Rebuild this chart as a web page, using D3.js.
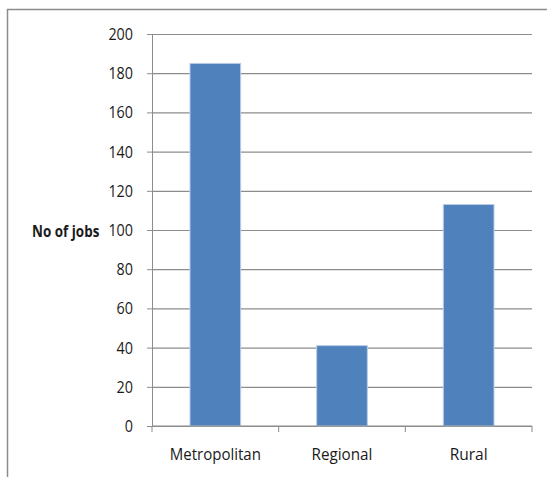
<!DOCTYPE html>
<html>
<head>
<meta charset="utf-8">
<script src="https://cdn.jsdelivr.net/npm/d3@7"></script>
<style>
  body { margin: 0; background: #fff; }
  svg text { font-family: "Open Sans", "Liberation Sans", sans-serif; fill: #1a1a1a; }
</style>
</head>
<body>
<svg id="chart" width="547" height="477"></svg>
<script>
const categories = ["Metropolitan", "Regional", "Rural"];
const jobs = [185, 41, 113];
const yTicks = [0, 20, 40, 60, 80, 100, 120, 140, 160, 180, 200];
const yTitle = "No of jobs";

const svg = d3.select("#chart");
const plot = { left: 152, right: 532, top: 34, bottom: 426 };

// condensed lettering: squeeze each label to a narrow width
const narrow = (sel, perChar) => sel.each(function () {
  const t = d3.select(this);
  t.attr("textLength", t.text().length * perChar).attr("lengthAdjust", "spacingAndGlyphs");
});

// outer frame
svg.append("rect")
  .attr("x", 7.5).attr("y", 9.5)
  .attr("width", 560).attr("height", 480)
  .attr("fill", "none").attr("stroke", "#8c8c8c").attr("stroke-width", 1.5);

const x = d3.scaleBand().domain(categories).range([plot.left, plot.right])
  .paddingInner(0.6).paddingOuter(0.3);
const y = d3.scaleLinear().domain([0, 200]).range([plot.bottom, plot.top]);

// horizontal gridlines with left tick marks
const yAxis = svg.append("g")
  .attr("transform", `translate(${plot.left},0)`)
  .call(d3.axisLeft(y).tickValues(yTicks).tickSize(5).tickPadding(14).tickFormat(d3.format("d")));
yAxis.select(".domain").attr("stroke", "#8c8c8c");
yAxis.selectAll(".tick line").attr("stroke", "#8c8c8c");
yAxis.selectAll(".tick").append("line")
  .attr("x1", 0).attr("x2", plot.right - plot.left)
  .attr("stroke", "#8c8c8c").attr("stroke-width", 1.2);
yAxis.selectAll("text").attr("font-size", 17).attr("fill", "#1a1a1a")
  .style("font-family", "'Open Sans', sans-serif")
  .call(narrow, 8.2);

// bars
svg.append("g").selectAll("rect").data(jobs).join("rect")
  .attr("x", (d, i) => x(categories[i]))
  .attr("y", d => y(d))
  .attr("width", x.bandwidth())
  .attr("height", d => y(0) - y(d))
  .attr("fill", "#4f81bd")
  .attr("stroke", "#b9cde6").attr("stroke-width", 1);

// x axis with category boundary ticks
const xb = svg.append("g").attr("transform", `translate(0,${plot.bottom})`);
xb.append("line").attr("x1", plot.left).attr("x2", plot.right)
  .attr("stroke", "#8c8c8c").attr("stroke-width", 1.2);
const bounds = d3.range(categories.length + 1).map(i => plot.left + i * (plot.right - plot.left) / categories.length);
xb.selectAll("line.b").data(bounds).join("line").attr("class", "b")
  .attr("x1", d => d).attr("x2", d => d).attr("y1", 0).attr("y2", 6)
  .attr("stroke", "#8c8c8c");
xb.selectAll("text").data(categories).join("text")
  .attr("x", d => x(d) + x.bandwidth() / 2)
  .attr("y", 34)
  .attr("text-anchor", "middle")
  .attr("font-size", 16)
  .text(d => d)
  .call(narrow, 7.6);

// y axis title, drawn horizontally condensed
const title = svg.append("text")
  .attr("transform", "translate(32,237) scale(0.84,1)")
  .attr("font-size", 16).attr("font-weight", "bold")
  .text(yTitle);
</script>
</body>
</html>
